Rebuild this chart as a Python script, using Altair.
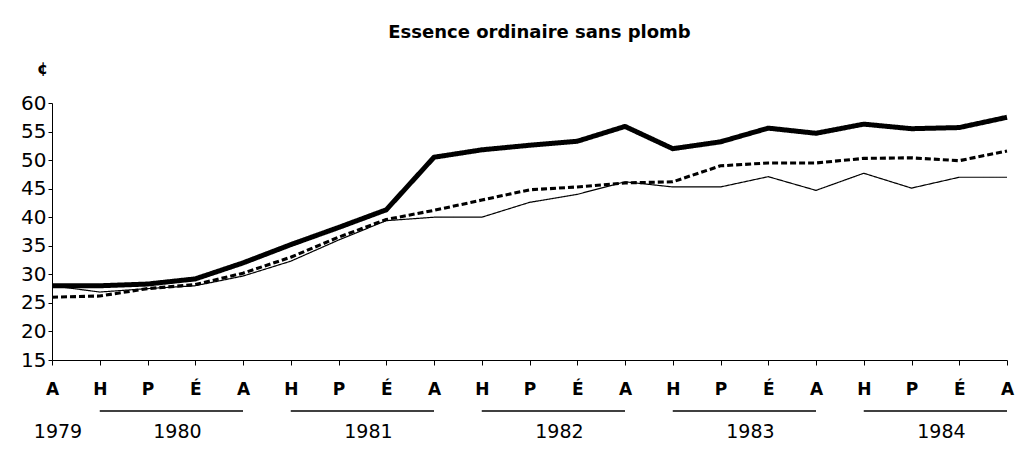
import altair as alt
import pandas as pd

seasons = ["A", "H", "P", "É", "A", "H", "P", "É", "A", "H", "P", "É",
           "A", "H", "P", "É", "A", "H", "P", "É", "A"]
thick = [28, 28, 28.3, 29.2, 32, 35.2, 38.2, 41.3, 50.5, 51.8, 52.6, 53.3,
         55.9, 52, 53.2, 55.6, 54.7, 56.3, 55.5, 55.7, 57.5]
dashed = [26, 26.2, 27.5, 28.2, 30.2, 33, 36.5, 39.6, 41.2, 43, 44.8, 45.3,
          46, 46.2, 49, 49.5, 49.5, 50.3, 50.4, 49.9, 51.6]
thin = [28, 26.9, 27.5, 28, 29.7, 32.3, 36, 39.4, 40, 40, 42.6, 44,
        46.2, 45.3, 45.3, 47.1, 44.7, 47.7, 45.1, 47, 47]
years = ["1979", "1980", "1981", "1982", "1983", "1984"]
year_start = [0, 1, 5, 9, 13, 17]
year_end = [0, 4, 8, 12, 16, 20]
y_ticks = [15, 20, 25, 30, 35, 40, 45, 50, 55, 60]

rows = []
for name, vals in [("épais", thick), ("tirets", dashed), ("mince", thin)]:
    for i, v in enumerate(vals):
        rows.append({"i": i, "v": v, "serie": name})
df = pd.DataFrame(rows)

ydf = pd.DataFrame({"annee": years, "debut": year_start, "fin": year_end})
ydf["milieu"] = (ydf["debut"] + ydf["fin"]) / 2
ydf_line = ydf[ydf["fin"] > ydf["debut"]]

W, H = 955, 257
FONT = "DejaVu Sans"
label_expr = "[" + ",".join(f"'{s}'" for s in seasons) + "][datum.value]"

xscale = alt.Scale(domain=[0, 20], nice=False, zero=False)

lines = alt.Chart(df).mark_line(color="black", strokeJoin="round").encode(
    x=alt.X("i:Q", scale=xscale,
            axis=alt.Axis(values=list(range(21)), labelExpr=label_expr, title=None,
                          labelFontSize=17, labelFont=FONT, labelPadding=16,
                          labelAngle=0, tickSize=5, tickColor="black",
                          domainColor="black", labelColor="black", grid=False,
                          labelFlush=False, labelFontWeight="bold")),
    y=alt.Y("v:Q", scale=alt.Scale(domain=[15, 60], nice=False, zero=False),
            axis=alt.Axis(values=y_ticks, title="¢", titleAngle=0, titleX=-10,
                          titleY=-35, titleFontSize=16, titleFont=FONT,
                          titleFontWeight="bold", titleAlign="center",
                          titleBaseline="middle", labelFontSize=20, labelFont=FONT,
                          labelColor="black", tickSize=4, tickColor="black",
                          domainColor="black", grid=False, labelPadding=2)),
    strokeWidth=alt.StrokeWidth("serie:N",
                                scale=alt.Scale(domain=["épais", "tirets", "mince"],
                                                range=[5, 1.2, 1.3]), legend=None),
    strokeDash=alt.StrokeDash("serie:N",
                              scale=alt.Scale(domain=["épais", "tirets", "mince"],
                                              range=[[1, 0], [6, 3], [1, 0]]), legend=None),
    detail="serie:N",
)

rules = alt.Chart(ydf_line).mark_rule(color="black", strokeWidth=1.5).encode(
    x=alt.X("debut:Q", scale=xscale),
    x2="fin:Q",
    y=alt.value(H + 51),
)

ytext = alt.Chart(ydf).mark_text(font=FONT, fontSize=19, color="black",
                                 baseline="middle", dx=6).encode(
    x=alt.X("milieu:Q", scale=xscale),
    y=alt.value(H + 72),
    text="annee:N",
)

chart = alt.layer(lines, rules, ytext).properties(
    width=W, height=H,
    background="white",
    title=alt.TitleParams("Essence ordinaire sans plomb", fontSize=18, font=FONT,
                          fontWeight="bold", anchor="middle",
                          offset=18, dx=10, color="black"),
    autosize=alt.AutoSizeParams(type="none"),
    padding={"left": 44, "top": 95, "right": 14, "bottom": 84},
).configure_view(strokeWidth=0, stroke="transparent")

chart.save("out.html", embed_options={"renderer": "svg", "actions": False})
